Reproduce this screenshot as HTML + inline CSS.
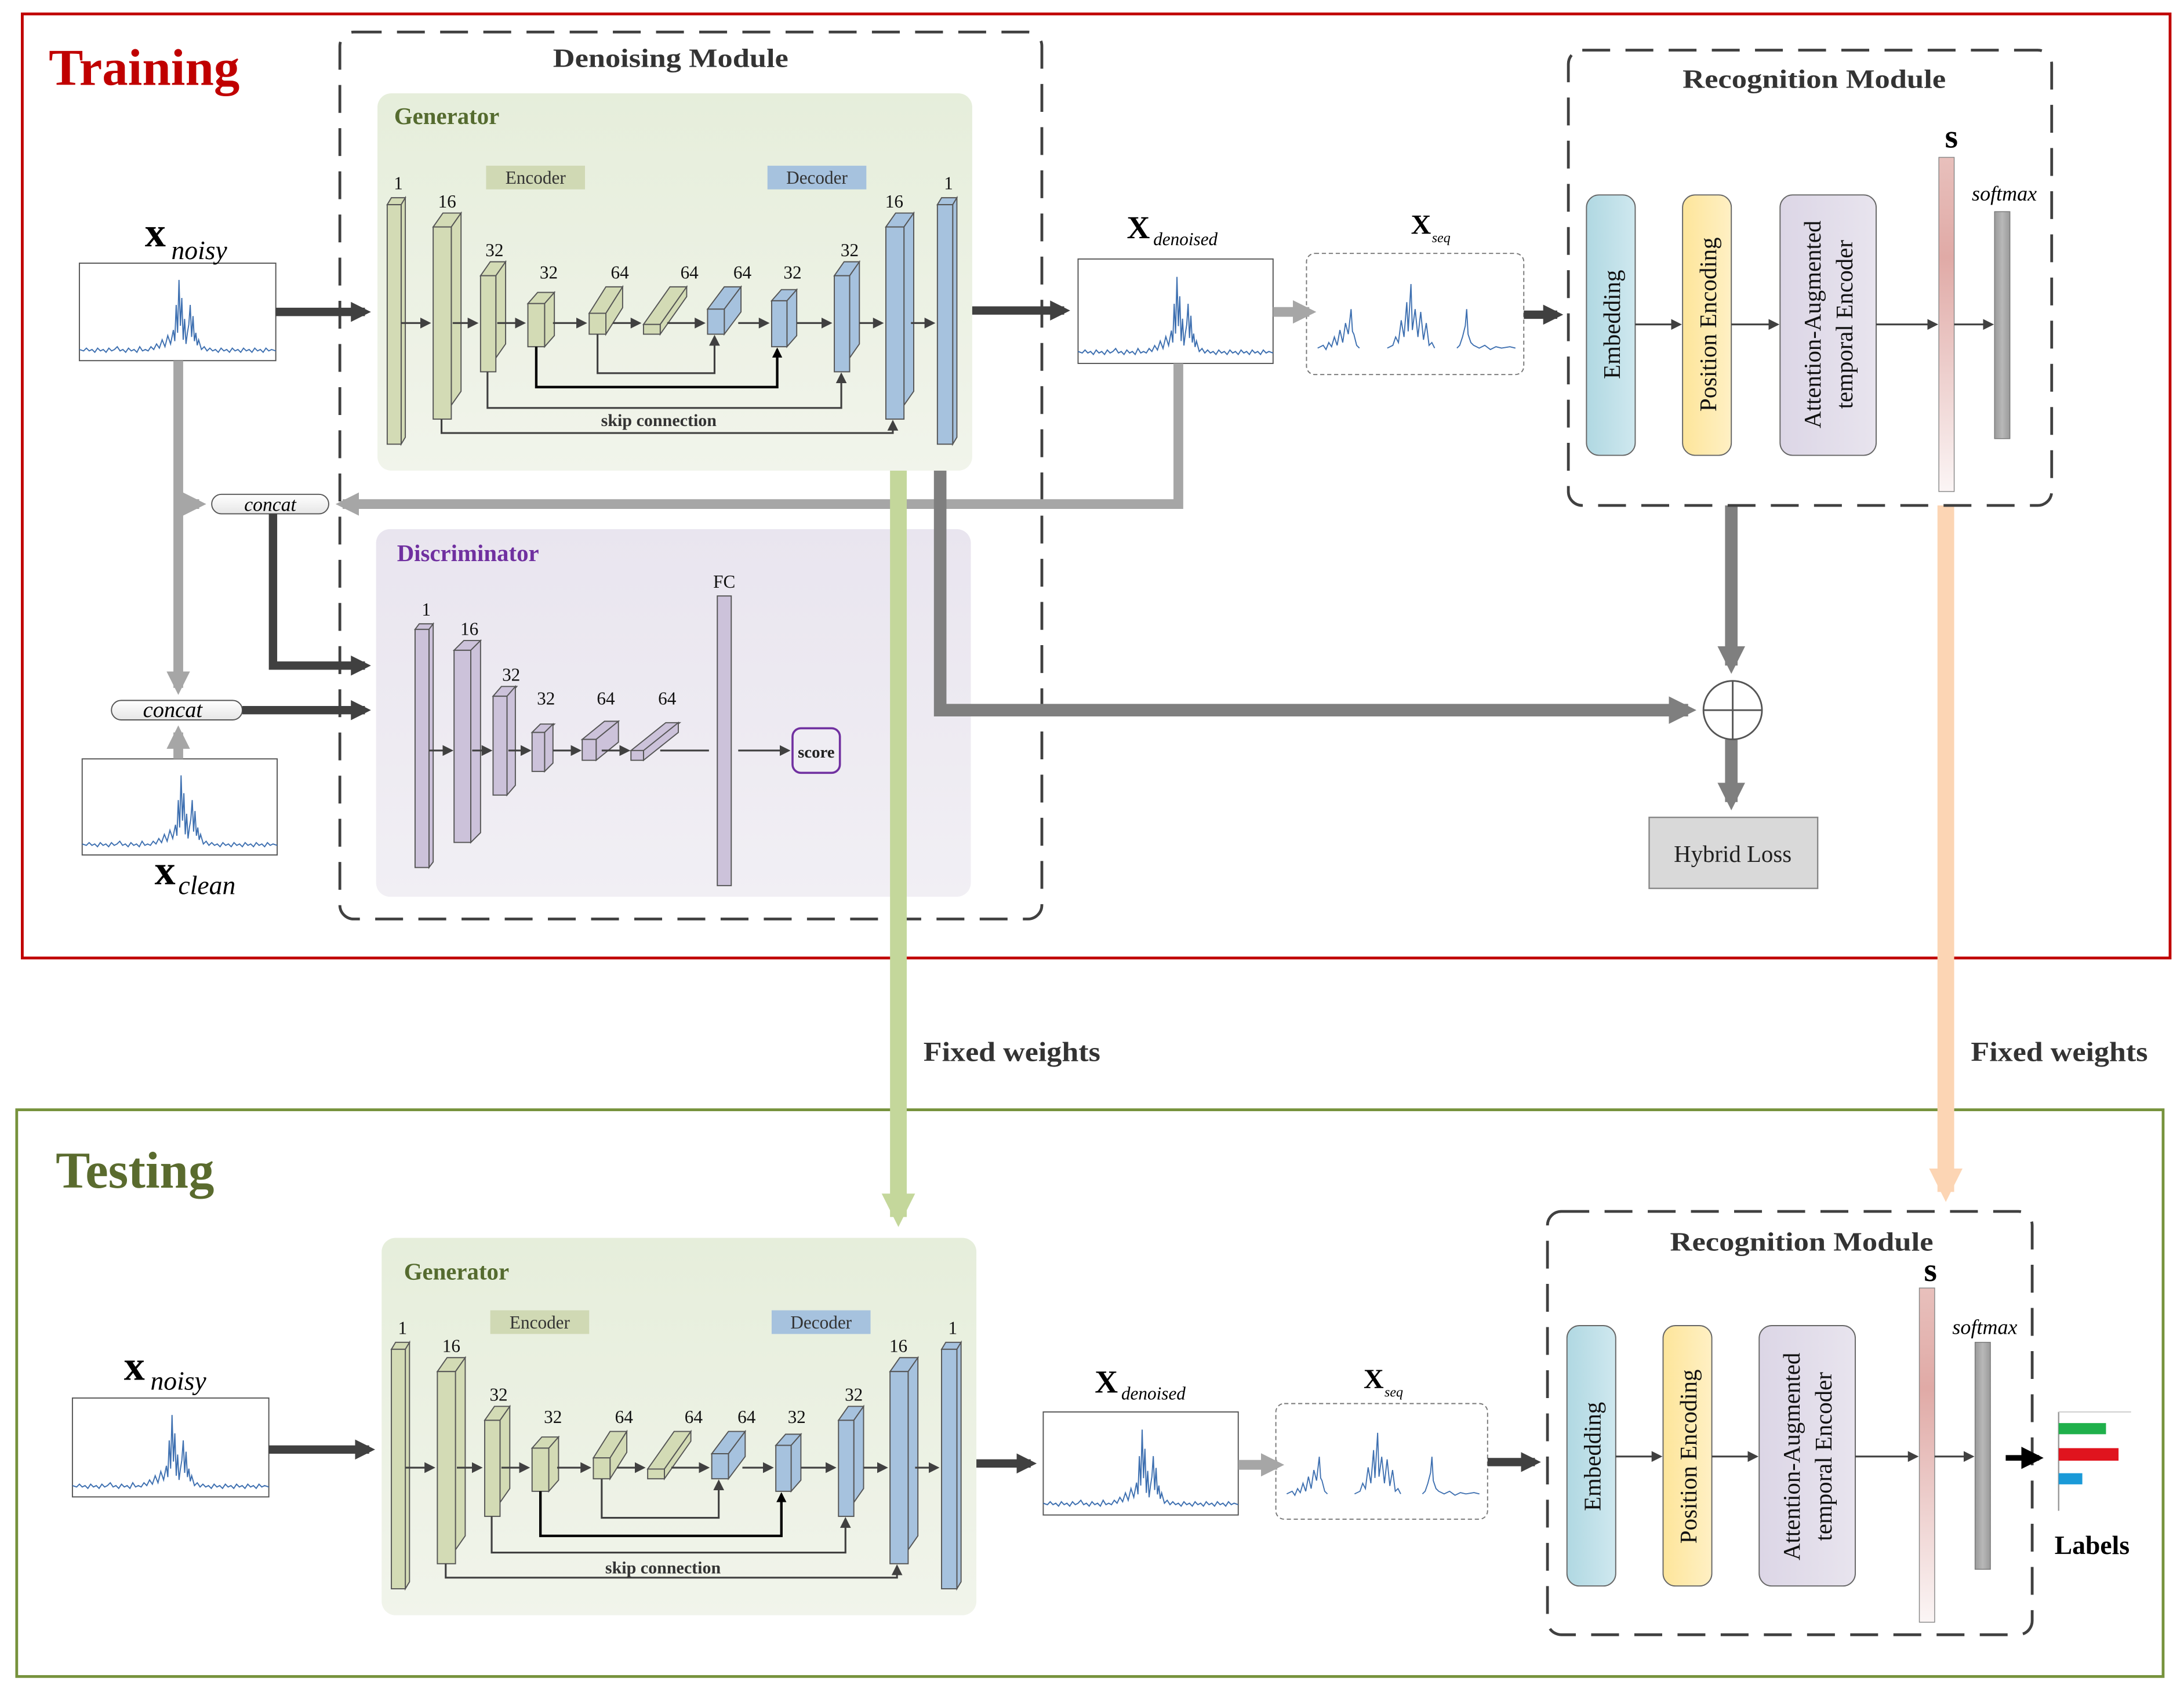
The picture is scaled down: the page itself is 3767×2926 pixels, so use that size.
<!DOCTYPE html>
<html><head><meta charset="utf-8">
<style>
html,body{margin:0;padding:0;background:#fff;}
svg{display:block;}
text{font-family:"Liberation Serif",serif;}
</style></head>
<body>
<svg width="3767" height="2926" viewBox="0 0 1568 1218" preserveAspectRatio="none" xmlns="http://www.w3.org/2000/svg">
<defs>
<marker id="mD" viewBox="0 0 10 10" refX="7" refY="5" markerWidth="2.4" markerHeight="2.4" orient="auto" markerUnits="strokeWidth"><path d="M0,0 L10,5 L0,10 Z" fill="#404040"/></marker>
<marker id="mG" viewBox="0 0 10 10" refX="7" refY="5" markerWidth="2.4" markerHeight="2.4" orient="auto" markerUnits="strokeWidth"><path d="M0,0 L10,5 L0,10 Z" fill="#a6a6a6"/></marker>
<marker id="mM" viewBox="0 0 10 10" refX="7" refY="5" markerWidth="2.2" markerHeight="2.2" orient="auto" markerUnits="strokeWidth"><path d="M0,0 L10,5 L0,10 Z" fill="#7f7f7f"/></marker>
<marker id="mGr" viewBox="0 0 10 10" refX="7" refY="5" markerWidth="2.2" markerHeight="2.0" orient="auto" markerUnits="strokeWidth"><path d="M0,0 L10,5 L0,10 Z" fill="#c4d79b"/></marker>
<marker id="mP" viewBox="0 0 10 10" refX="7" refY="5" markerWidth="2.2" markerHeight="2.0" orient="auto" markerUnits="strokeWidth"><path d="M0,0 L10,5 L0,10 Z" fill="#fcd5b4"/></marker>
<marker id="mT" viewBox="0 0 10 10" refX="8" refY="5" markerWidth="6" markerHeight="6" orient="auto" markerUnits="strokeWidth"><path d="M0,0 L10,5 L0,10 Z" fill="#404040"/></marker>
<marker id="mK" viewBox="0 0 10 10" refX="8" refY="5" markerWidth="4" markerHeight="4" orient="auto" markerUnits="strokeWidth"><path d="M0,0 L10,5 L0,10 Z" fill="#000"/></marker>
<linearGradient id="gGen" x1="0" y1="0" x2="0" y2="1"><stop offset="0" stop-color="#e6eedb"/><stop offset="1" stop-color="#f1f4eb"/></linearGradient>
<linearGradient id="gDis" x1="0" y1="0" x2="0" y2="1"><stop offset="0" stop-color="#e9e5ef"/><stop offset="1" stop-color="#f1eff4"/></linearGradient>
<linearGradient id="gS" x1="0" y1="0" x2="0" y2="1"><stop offset="0" stop-color="#e8c0bc"/><stop offset="0.3" stop-color="#e0aaa6"/><stop offset="1" stop-color="#fbf5f5"/></linearGradient>
<linearGradient id="gSm" x1="0" y1="0" x2="1" y2="0"><stop offset="0" stop-color="#9a9a9a"/><stop offset="0.5" stop-color="#b8b8b8"/><stop offset="1" stop-color="#9a9a9a"/></linearGradient>
<linearGradient id="gEmb" x1="0" y1="0" x2="1" y2="0"><stop offset="0" stop-color="#b0d8e2"/><stop offset="1" stop-color="#cfe8ef"/></linearGradient>
<linearGradient id="gPos" x1="0" y1="0" x2="1" y2="0"><stop offset="0" stop-color="#fde59a"/><stop offset="1" stop-color="#fff0c4"/></linearGradient>
<linearGradient id="gAtt" x1="0" y1="0" x2="1" y2="0"><stop offset="0" stop-color="#dcd6e6"/><stop offset="1" stop-color="#e8e4ee"/></linearGradient>
<linearGradient id="gPill" x1="0" y1="0" x2="0" y2="1"><stop offset="0" stop-color="#ffffff"/><stop offset="1" stop-color="#e6e6e6"/></linearGradient>
<symbol id="sig" viewBox="0 0 140 70" preserveAspectRatio="none">
<polyline fill="none" stroke="#3d6fb0" stroke-width="0.8" points="0,62 3,63 5,61 7,63 9,62 11,64 13,61 15,63 17,62 19,64 21,61 23,63 25,62 27,60 29,63 31,62 33,64 35,61 37,63 39,62 41,64 43,60 45,63 47,62 49,63 51,60 53,62 55,58 57,61 59,55 61,60 63,52 65,58 67,48 68,56 69,30 70,50 71,12 72,45 73,25 74,55 75,40 76,58 77,50 78,44 79,30 80,53 81,38 82,56 83,50 84,59 85,55 87,62 89,60 91,63 93,61 95,63 97,62 99,64 101,61 103,63 105,62 107,64 109,61 111,63 113,62 115,64 117,61 119,63 121,62 123,64 125,61 127,63 129,62 131,64 133,61 135,63 137,62 140,63"/>
</symbol>
<symbol id="seq" viewBox="0 0 156 87" preserveAspectRatio="none">
<polyline fill="none" stroke="#3d6fb0" stroke-width="0.8" points="8,68 12,66 14,69 16,64 18,67 20,60 22,66 24,55 26,64 28,50 30,58 32,40 33,56 34,58 36,66 38,68"/>
<polyline fill="none" stroke="#3d6fb0" stroke-width="0.8" points="58,68 62,66 64,60 66,64 68,48 70,60 72,35 73,56 75,22 76,55 78,40 80,60 82,42 84,62 86,50 88,66 90,64 92,68"/>
<polyline fill="none" stroke="#3d6fb0" stroke-width="0.8" points="108,68 110,66 112,60 114,52 115,40 116,58 118,64 120,66 124,68 128,66 132,69 136,67 140,68 146,67 150,68"/>
</symbol>
</defs>

<rect width="1568" height="1218" fill="#fff"/>

<rect x="16" y="10" width="1542" height="678" fill="none" stroke="#c00000" stroke-width="2"/>
<text x="35" y="61" font-size="37" font-weight="bold" fill="#c00000">Training</text>
<rect x="12" y="797" width="1541" height="407" fill="none" stroke="#76923c" stroke-width="2"/>
<text x="40" y="853" font-size="37" font-weight="bold" fill="#5a6b2e">Testing</text>

<rect x="244" y="23" width="504" height="637" rx="10" fill="none" stroke="#404040" stroke-width="2" stroke-dasharray="20,11"/>
<text x="397" y="48" font-size="19" font-weight="bold" fill="#333" textLength="169" lengthAdjust="spacingAndGlyphs">Denoising Module</text>

<g id="gen">
<rect x="271" y="67" width="427" height="271" rx="10" fill="url(#gGen)"/>
<text x="283" y="89" font-size="17" font-weight="bold" fill="#556b2f">Generator</text>
<rect x="349" y="119" width="71" height="17" fill="#d0d9b4"/>
<text x="384.5" y="132" font-size="13" text-anchor="middle" fill="#333">Encoder</text>
<rect x="551" y="119" width="71" height="17" fill="#a6c2de"/>
<text x="586.5" y="132" font-size="13" text-anchor="middle" fill="#333">Decoder</text>
<g stroke="#555" stroke-width="0.8">
<g fill="#d3dbb5">
<path d="M278,147 l3,-5 h10 l-3,5 Z"/><path d="M288,147 l3,-5 v172 l-3,5 Z"/><rect x="278" y="147" width="10" height="172"/>
<path d="M311,163 l7,-10 h13 l-7,10 Z"/><path d="M324,163 l7,-10 v128 l-7,10 Z"/><rect x="311" y="163" width="13" height="138"/>
<path d="M345,198 l7,-10 h11 l-7,10 Z"/><path d="M356,198 l7,-10 v59 l-7,10 Z"/><rect x="345" y="198" width="11" height="69"/>
<path d="M379,218 l7,-8 h12 l-7,8 Z"/><path d="M391,218 l7,-8 v31 l-7,8 Z"/><rect x="379" y="218" width="12" height="31"/>
<path d="M423,225 l12,-19 h12 l-12,19 Z"/><path d="M435,225 l12,-19 v15 l-12,19 Z"/><rect x="423" y="225" width="12" height="15"/>
<path d="M462,233 l19,-27 h12 l-19,27 Z"/><path d="M474,233 l19,-27 v7 l-19,27 Z"/><rect x="462" y="233" width="12" height="7"/>
</g>
<g fill="#a6c2de">
<path d="M508,222 l12,-16 h12 l-12,16 Z"/><path d="M520,222 l12,-16 v18 l-12,16 Z"/><rect x="508" y="222" width="12" height="18"/>
<path d="M554,216 l7,-8 h11 l-7,8 Z"/><path d="M565,216 l7,-8 v33 l-7,8 Z"/><rect x="554" y="216" width="11" height="33"/>
<path d="M599,198 l7,-10 h11 l-7,10 Z"/><path d="M610,198 l7,-10 v59 l-7,10 Z"/><rect x="599" y="198" width="11" height="69"/>
<path d="M636,163 l7,-10 h13 l-7,10 Z"/><path d="M649,163 l7,-10 v128 l-7,10 Z"/><rect x="636" y="163" width="13" height="138"/>
<path d="M673,147 l3,-5 h11 l-3,5 Z"/><path d="M684,147 l3,-5 v172 l-3,5 Z"/><rect x="673" y="147" width="11" height="172"/>
</g>
</g>
<g font-size="13" fill="#111" text-anchor="middle">
<text x="286" y="136">1</text><text x="321" y="149">16</text><text x="355" y="184">32</text><text x="394" y="200">32</text>
<text x="445" y="200">64</text><text x="495" y="200">64</text><text x="533" y="200">64</text><text x="569" y="200">32</text>
<text x="610" y="184">32</text><text x="642" y="149">16</text><text x="681" y="136">1</text>
</g>
<g stroke="#404040" stroke-width="1.3" fill="none" marker-end="url(#mT)">
<line x1="288" y1="232" x2="308" y2="232"/><line x1="325" y1="232" x2="342" y2="232"/><line x1="357" y1="232" x2="376" y2="232"/>
<line x1="397" y1="232" x2="420" y2="232"/><line x1="440" y1="232" x2="459" y2="232"/><line x1="479" y1="232" x2="505" y2="232"/>
<line x1="530" y1="232" x2="551" y2="232"/><line x1="572" y1="232" x2="596" y2="232"/><line x1="617" y1="232" x2="633" y2="232"/>
<line x1="654" y1="232" x2="670" y2="232"/>
<polyline points="429,240 429,268 513,268 513,242"/>
<polyline points="350,267 350,293 604,293 604,269"/>
<polyline points="317,301 317,311 641,311 641,303"/>
</g>
<polyline points="385,249 385,278 558,278 558,251" stroke="#000" stroke-width="1.8" fill="none" marker-end="url(#mK)"/>
<text x="473" y="306" font-size="12.5" font-weight="bold" fill="#333" text-anchor="middle">skip connection</text>
</g>

<g transform="translate(3,822)">
<rect x="271" y="67" width="427" height="271" rx="10" fill="url(#gGen)"/>
<text x="287" y="97" font-size="17" font-weight="bold" fill="#556b2f">Generator</text>
<rect x="349" y="119" width="71" height="17" fill="#d0d9b4"/>
<text x="384.5" y="132" font-size="13" text-anchor="middle" fill="#333">Encoder</text>
<rect x="551" y="119" width="71" height="17" fill="#a6c2de"/>
<text x="586.5" y="132" font-size="13" text-anchor="middle" fill="#333">Decoder</text>
<g stroke="#555" stroke-width="0.8">
<g fill="#d3dbb5">
<path d="M278,147 l3,-5 h10 l-3,5 Z"/><path d="M288,147 l3,-5 v172 l-3,5 Z"/><rect x="278" y="147" width="10" height="172"/>
<path d="M311,163 l7,-10 h13 l-7,10 Z"/><path d="M324,163 l7,-10 v128 l-7,10 Z"/><rect x="311" y="163" width="13" height="138"/>
<path d="M345,198 l7,-10 h11 l-7,10 Z"/><path d="M356,198 l7,-10 v59 l-7,10 Z"/><rect x="345" y="198" width="11" height="69"/>
<path d="M379,218 l7,-8 h12 l-7,8 Z"/><path d="M391,218 l7,-8 v31 l-7,8 Z"/><rect x="379" y="218" width="12" height="31"/>
<path d="M423,225 l12,-19 h12 l-12,19 Z"/><path d="M435,225 l12,-19 v15 l-12,19 Z"/><rect x="423" y="225" width="12" height="15"/>
<path d="M462,233 l19,-27 h12 l-19,27 Z"/><path d="M474,233 l19,-27 v7 l-19,27 Z"/><rect x="462" y="233" width="12" height="7"/>
</g>
<g fill="#a6c2de">
<path d="M508,222 l12,-16 h12 l-12,16 Z"/><path d="M520,222 l12,-16 v18 l-12,16 Z"/><rect x="508" y="222" width="12" height="18"/>
<path d="M554,216 l7,-8 h11 l-7,8 Z"/><path d="M565,216 l7,-8 v33 l-7,8 Z"/><rect x="554" y="216" width="11" height="33"/>
<path d="M599,198 l7,-10 h11 l-7,10 Z"/><path d="M610,198 l7,-10 v59 l-7,10 Z"/><rect x="599" y="198" width="11" height="69"/>
<path d="M636,163 l7,-10 h13 l-7,10 Z"/><path d="M649,163 l7,-10 v128 l-7,10 Z"/><rect x="636" y="163" width="13" height="138"/>
<path d="M673,147 l3,-5 h11 l-3,5 Z"/><path d="M684,147 l3,-5 v172 l-3,5 Z"/><rect x="673" y="147" width="11" height="172"/>
</g>
</g>
<g font-size="13" fill="#111" text-anchor="middle">
<text x="286" y="136">1</text><text x="321" y="149">16</text><text x="355" y="184">32</text><text x="394" y="200">32</text>
<text x="445" y="200">64</text><text x="495" y="200">64</text><text x="533" y="200">64</text><text x="569" y="200">32</text>
<text x="610" y="184">32</text><text x="642" y="149">16</text><text x="681" y="136">1</text>
</g>
<g stroke="#404040" stroke-width="1.3" fill="none" marker-end="url(#mT)">
<line x1="288" y1="232" x2="308" y2="232"/><line x1="325" y1="232" x2="342" y2="232"/><line x1="357" y1="232" x2="376" y2="232"/>
<line x1="397" y1="232" x2="420" y2="232"/><line x1="440" y1="232" x2="459" y2="232"/><line x1="479" y1="232" x2="505" y2="232"/>
<line x1="530" y1="232" x2="551" y2="232"/><line x1="572" y1="232" x2="596" y2="232"/><line x1="617" y1="232" x2="633" y2="232"/>
<line x1="654" y1="232" x2="670" y2="232"/>
<polyline points="429,240 429,268 513,268 513,242"/>
<polyline points="350,267 350,293 604,293 604,269"/>
<polyline points="317,301 317,311 641,311 641,303"/>
</g>
<polyline points="385,249 385,281 558,281 558,251" stroke="#000" stroke-width="1.8" fill="none" marker-end="url(#mK)"/>
<text x="473" y="308" font-size="12.5" font-weight="bold" fill="#333" text-anchor="middle">skip connection</text>
</g>

<rect x="270" y="380" width="427" height="264" rx="10" fill="url(#gDis)"/>
<text x="285" y="403" font-size="17" font-weight="bold" fill="#7030a0">Discriminator</text>
<g stroke="#555" stroke-width="0.8" fill="#ccc2da">
<path d="M298,452 l3,-4 h10 l-3,4 Z"/><path d="M308,452 l3,-4 v171 l-3,4 Z"/><rect x="298" y="452" width="10" height="171"/>
<path d="M326,467 l7,-7 h12 l-7,7 Z"/><path d="M338,467 l7,-7 v138 l-7,7 Z"/><rect x="326" y="467" width="12" height="138"/>
<path d="M354,500 l6,-7 h11 l-6,7 Z"/><path d="M364,500 l6,-7 v71 l-6,7 Z"/><rect x="354" y="500" width="10" height="71"/>
<path d="M382,526 l6,-6 h10 l-6,6 Z"/><path d="M391,526 l6,-6 v28 l-6,6 Z"/><rect x="382" y="526" width="9" height="28"/>
<path d="M418,531 l16,-13 h10 l-16,13 Z"/><path d="M428,531 l16,-13 v15 l-16,13 Z"/><rect x="418" y="531" width="10" height="15"/>
<path d="M453,539 l25,-20 h10 l-25,20 Z"/><path d="M462,539 l25,-20 v7 l-25,20 Z"/><rect x="453" y="539" width="9" height="7"/>
<rect x="515" y="428" width="10" height="208"/>
</g>
<g font-size="13" fill="#111" text-anchor="middle">
<text x="306" y="442">1</text><text x="337" y="456">16</text><text x="367" y="489">32</text><text x="392" y="506">32</text>
<text x="435" y="506">64</text><text x="479" y="506">64</text><text x="520" y="422">FC</text>
</g>
<g stroke="#404040" stroke-width="1.3" fill="none" marker-end="url(#mT)">
<line x1="308" y1="539" x2="324" y2="539"/><line x1="339" y1="539" x2="352" y2="539"/><line x1="365" y1="539" x2="380" y2="539"/>
<line x1="397" y1="539" x2="416" y2="539"/><line x1="432" y1="539" x2="451" y2="539"/>
<line x1="530" y1="539" x2="566" y2="539"/>
</g>
<line x1="474" y1="539" x2="509" y2="539" stroke="#404040" stroke-width="1.3"/>
<rect x="569" y="523" width="34" height="32" rx="6" fill="#efedf3" stroke="#7030a0" stroke-width="1.5"/>
<text x="586" y="544" font-size="12" font-weight="bold" text-anchor="middle" fill="#222">score</text>

<g stroke="#555" stroke-width="0.8" fill="#fff">
<rect x="57" y="189" width="141" height="70"/>
<rect x="59" y="545" width="140" height="69"/>
<rect x="774" y="186" width="140" height="75"/>
<rect x="52" y="1004" width="141" height="71"/>
<rect x="749" y="1014" width="140" height="74"/>
</g>
<rect x="938" y="182" width="156" height="87" rx="6" fill="#fff" stroke="#777" stroke-width="0.8" stroke-dasharray="3,2"/>
<rect x="916" y="1008" width="152" height="83" rx="6" fill="#fff" stroke="#777" stroke-width="0.8" stroke-dasharray="3,2"/>
<use href="#sig" x="57" y="189" width="141" height="70"/>
<use href="#sig" x="59" y="545" width="140" height="69"/>
<use href="#sig" x="774" y="186" width="140" height="75"/>
<use href="#sig" x="52" y="1004" width="141" height="71"/>
<use href="#sig" x="749" y="1014" width="140" height="74"/>
<use href="#seq" x="938" y="182" width="156" height="87"/>
<use href="#seq" x="916" y="1008" width="152" height="83"/>

<text x="104" y="177" font-size="30" font-weight="bold" fill="#000">x</text><text x="123" y="186" font-size="19" font-style="italic">noisy</text>
<text x="111" y="635" font-size="30" font-weight="bold" fill="#000">x</text><text x="128" y="642" font-size="19" font-style="italic">clean</text>
<text x="89" y="991" font-size="30" font-weight="bold" fill="#000">x</text><text x="108" y="998" font-size="19" font-style="italic">noisy</text>
<text x="809" y="171" font-size="23" font-weight="bold">X</text><text x="828" y="176" font-size="13" font-style="italic">denoised</text>
<text x="786" y="1000" font-size="23" font-weight="bold">X</text><text x="805" y="1005" font-size="13" font-style="italic">denoised</text>
<text x="1013" y="168" font-size="20" font-weight="bold">X</text><text x="1028" y="174" font-size="10" font-style="italic">seq</text>
<text x="979" y="997" font-size="20" font-weight="bold">X</text><text x="994" y="1003" font-size="10" font-style="italic">seq</text>

<g stroke="#a6a6a6" stroke-width="7" fill="none">
<line x1="128" y1="259" x2="128" y2="494" marker-end="url(#mG)"/>
<line x1="128" y1="362" x2="143" y2="362" marker-end="url(#mG)"/>
<polyline points="846,261 846,362 246,362" marker-end="url(#mG)"/>
<line x1="128" y1="545" x2="128" y2="526" marker-end="url(#mG)"/>
<line x1="914" y1="224" x2="940" y2="224" marker-end="url(#mG)"/>
<line x1="889" y1="1052" x2="917" y2="1052" marker-end="url(#mG)"/>
</g>
<rect x="152" y="355" width="84" height="14" rx="7" fill="url(#gPill)" stroke="#555" stroke-width="0.8"/>
<text x="194" y="367" font-size="14" font-style="italic" text-anchor="middle">concat</text>
<rect x="80" y="503" width="94" height="14" rx="7" fill="url(#gPill)" stroke="#555" stroke-width="0.8"/>
<text x="124" y="515" font-size="16" font-style="italic" text-anchor="middle">concat</text>

<g stroke="#404040" stroke-width="6" fill="none">
<line x1="198" y1="224" x2="262" y2="224" marker-end="url(#mD)"/>
<line x1="698" y1="223" x2="764" y2="223" marker-end="url(#mD)"/>
<line x1="1094" y1="226" x2="1118" y2="226" marker-end="url(#mD)"/>
<polyline points="196,369 196,478 262,478" marker-end="url(#mD)"/>
<line x1="174" y1="510" x2="262" y2="510" marker-end="url(#mD)"/>
<line x1="193" y1="1041" x2="265" y2="1041" marker-end="url(#mD)"/>
<line x1="701" y1="1051" x2="740" y2="1051" marker-end="url(#mD)"/>
<line x1="1068" y1="1050" x2="1102" y2="1050" marker-end="url(#mD)"/>
</g>

<g stroke="#7f7f7f" stroke-width="9" fill="none">
<polyline points="675,338 675,510 1212,510" marker-end="url(#mM)"/>
<line x1="1243" y1="363" x2="1243" y2="478" marker-end="url(#mM)"/>
<line x1="1243" y1="531" x2="1243" y2="576" marker-end="url(#mM)"/>
</g>
<circle cx="1244" cy="510" r="21" fill="#fff" stroke="#555" stroke-width="1.2"/>
<line x1="1223" y1="510" x2="1265" y2="510" stroke="#555" stroke-width="1.2"/>
<line x1="1244" y1="489" x2="1244" y2="531" stroke="#555" stroke-width="1.2"/>
<rect x="1184" y="587" width="121" height="51" fill="#d9d9d9" stroke="#888" stroke-width="1"/>
<text x="1244" y="619" font-size="17" text-anchor="middle" fill="#222">Hybrid Loss</text>

<line x1="645" y1="338" x2="645" y2="874" stroke="#c4d79b" stroke-width="12" marker-end="url(#mGr)"/>
<line x1="1397" y1="363" x2="1397" y2="856" stroke="#fcd5b4" stroke-width="12" marker-end="url(#mP)"/>
<text x="663" y="762" font-size="20" font-weight="bold" fill="#333" textLength="127" lengthAdjust="spacingAndGlyphs">Fixed weights</text>
<text x="1415" y="762" font-size="20" font-weight="bold" fill="#333" textLength="127" lengthAdjust="spacingAndGlyphs">Fixed weights</text>

<rect x="1126" y="36" width="347" height="327" rx="10" fill="#fff" stroke="#404040" stroke-width="2" stroke-dasharray="20,11"/>
<text x="1208" y="63" font-size="19" font-weight="bold" fill="#333" textLength="189" lengthAdjust="spacingAndGlyphs">Recognition Module</text>
<rect x="1139" y="140" width="35" height="187" rx="9" fill="url(#gEmb)" stroke="#666" stroke-width="0.8"/>
<rect x="1208" y="140" width="35" height="187" rx="9" fill="url(#gPos)" stroke="#666" stroke-width="0.8"/>
<rect x="1278" y="140" width="69" height="187" rx="9" fill="url(#gAtt)" stroke="#666" stroke-width="0.8"/>
<rect x="1392" y="113" width="11" height="240" fill="url(#gS)" stroke="#888" stroke-width="0.6"/>
<rect x="1432" y="152" width="11" height="163" fill="url(#gSm)" stroke="#777" stroke-width="0.6"/>
<text x="1401" y="106" font-size="24" font-weight="bold" text-anchor="middle">s</text>
<text x="1439" y="144" font-size="15" font-style="italic" text-anchor="middle">softmax</text>
<g font-size="17" fill="#111" text-anchor="middle">
<text transform="translate(1163,233) rotate(-90)">Embedding</text>
<text transform="translate(1232,233) rotate(-90)">Position Encoding</text>
<text transform="translate(1307,233) rotate(-90)">Attention-Augmented</text>
<text transform="translate(1330,233) rotate(-90)">temporal Encoder</text>
</g>
<g stroke="#404040" stroke-width="1.3" fill="none" marker-end="url(#mT)">
<line x1="1174" y1="233" x2="1206" y2="233"/><line x1="1243" y1="233" x2="1276" y2="233"/>
<line x1="1347" y1="233" x2="1390" y2="233"/><line x1="1403" y1="233" x2="1430" y2="233"/>
</g>

<rect x="1111" y="870" width="348" height="304" rx="10" fill="#fff" stroke="#404040" stroke-width="2" stroke-dasharray="20,11"/>
<text x="1199" y="898" font-size="19" font-weight="bold" fill="#333" textLength="189" lengthAdjust="spacingAndGlyphs">Recognition Module</text>
<rect x="1125" y="952" width="35" height="187" rx="9" fill="url(#gEmb)" stroke="#666" stroke-width="0.8"/>
<rect x="1194" y="952" width="35" height="187" rx="9" fill="url(#gPos)" stroke="#666" stroke-width="0.8"/>
<rect x="1263" y="952" width="69" height="187" rx="9" fill="url(#gAtt)" stroke="#666" stroke-width="0.8"/>
<rect x="1378" y="925" width="11" height="240" fill="url(#gS)" stroke="#888" stroke-width="0.6"/>
<rect x="1418" y="964" width="11" height="163" fill="url(#gSm)" stroke="#777" stroke-width="0.6"/>
<text x="1386" y="920" font-size="24" font-weight="bold" text-anchor="middle">s</text>
<text x="1425" y="958" font-size="15" font-style="italic" text-anchor="middle">softmax</text>
<g font-size="17" fill="#111" text-anchor="middle">
<text transform="translate(1149,1046) rotate(-90)">Embedding</text>
<text transform="translate(1218,1046) rotate(-90)">Position Encoding</text>
<text transform="translate(1292,1046) rotate(-90)">Attention-Augmented</text>
<text transform="translate(1315,1046) rotate(-90)">temporal Encoder</text>
</g>
<g stroke="#404040" stroke-width="1.3" fill="none" marker-end="url(#mT)">
<line x1="1160" y1="1046" x2="1192" y2="1046"/><line x1="1229" y1="1046" x2="1261" y2="1046"/>
<line x1="1332" y1="1046" x2="1376" y2="1046"/><line x1="1389" y1="1046" x2="1416" y2="1046"/>
</g>

<line x1="1440" y1="1047" x2="1464" y2="1047" stroke="#000" stroke-width="4" marker-end="url(#mK)"/>
<line x1="1478" y1="1014" x2="1478" y2="1085" stroke="#999" stroke-width="1"/>
<line x1="1478" y1="1014" x2="1530" y2="1014" stroke="#ccc" stroke-width="0.8"/>
<rect x="1478" y="1022" width="34" height="8" fill="#1fb04b"/>
<rect x="1478" y="1040" width="43" height="9" fill="#e0141e"/>
<rect x="1478" y="1058" width="17" height="8" fill="#1a9ad8"/>
<text x="1502" y="1116" font-size="19" font-weight="bold" text-anchor="middle">Labels</text>
</svg>
</body></html>
